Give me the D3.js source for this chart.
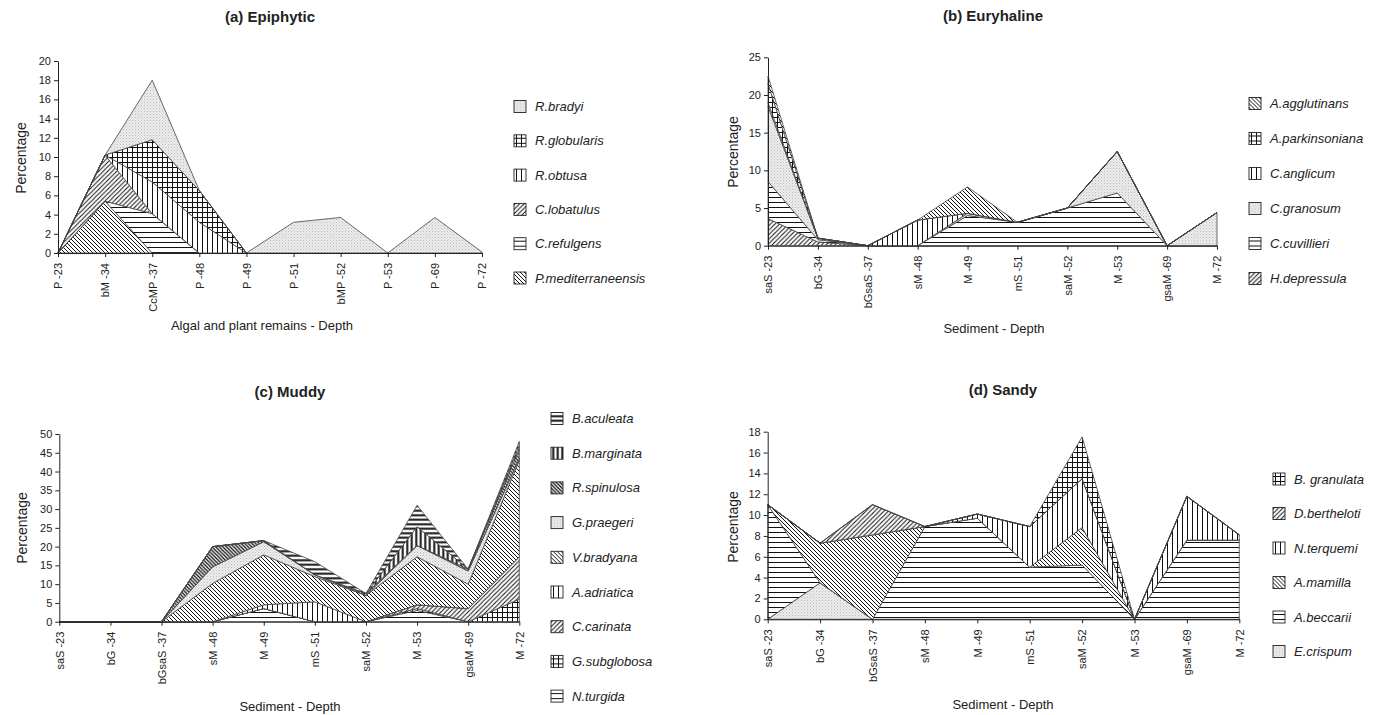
<!DOCTYPE html>
<html>
<head>
<meta charset="utf-8">
<script src="https://cdn.jsdelivr.net/npm/d3@7"></script>
<style>
body { margin: 0; background: #fff; }
text { font-family: "Liberation Sans", Arial, sans-serif; fill: #222; }
</style>
</head>
<body>
<svg id="chart" width="1381" height="715"></svg>
<script>
// categories (x axis)
const epiCats = ["P -23", "bM -34", "CcMP -37", "P -48", "P -49", "P -51", "bMP -52", "P -53", "P -69", "P -72"];
const sedCats = ["saS -23", "bG -34", "bGsaS -37", "sM -48", "M -49", "mS -51", "saM -52", "M -53", "gsaM -69", "M -72"];

// (a) Epiphytic, stack order bottom -> top
const pMediterraneensis = [0, 5.4, 0, 0, 0, 0, 0, 0, 0, 0];
const cRefulgens        = [0, 0, 4.1, 0, 0, 0, 0, 0, 0, 0];
const cLobatulus        = [0, 4.8, 0, 0, 0, 0, 0, 0, 0, 0];
const rObtusa           = [0, 0, 3.3, 3.2, 0, 0, 0, 0, 0, 0];
const rGlobularis       = [0, 0, 4.4, 3.3, 0, 0, 0, 0, 0, 0];
const rBradyi           = [0, 0, 6.2, 0, 0, 3.2, 3.7, 0, 3.7, 0.1];

// (b) Euryhaline
const hDepressula      = [3.6, 0.5, 0, 0, 0, 0, 0, 0, 0, 0];
const cCuvillieri      = [4.9, 0.3, 0, 0, 4.0, 3.1, 5.0, 7.0, 0, 0];
const cGranosum        = [10.0, 0.2, 0, 0, 0.3, 0, 0, 5.5, 0, 4.4];
const cAnglicum        = [0.5, 0, 0, 3.4, 0, 0, 0, 0, 0, 0];
const aParkinsoniana   = [2.5, 0, 0, 0, 0, 0, 0, 0, 0, 0];
const aAgglutinans     = [1.0, 0, 0, 0, 3.5, 0, 0, 0, 0, 0];

// (c) Muddy
const nTurgida     = [0, 0, 0, 0, 3.5, 0, 0, 3, 0, 0];
const gSubglobosa  = [0, 0, 0, 0, 0, 0, 0, 0.5, 0, 6];
const cCarinata    = [0, 0, 0, 0, 0, 0, 0, 1, 3.5, 11.3];
const aAdriatica   = [0, 0, 0, 0, 1, 5.3, 0, 0, 0, 0];
const vBradyana    = [0, 0, 0, 10.2, 13.3, 6.7, 7, 12.8, 6.5, 25.7];
const gPraegeri    = [0, 0, 0, 4.4, 3.5, 0.5, 0, 3, 3.5, 0.5];
const rSpinulosa   = [0, 0, 0, 5.4, 0.3, 0, 0.5, 0, 0.5, 2.5];
const bMarginata   = [0, 0, 0, 0, 0, 0, 0, 5, 0, 1];
const bAculeata    = [0, 0, 0, 0, 0, 3.5, 0, 5.7, 0, 1];

// (d) Sandy
const eCrispum     = [0, 3.5, 0, 0, 0, 0, 0, 0, 0, 0];
const aBeccarii    = [11.0, 0, 0, 8.9, 9.7, 5.0, 5.2, 0, 7.6, 7.6];
const aMamilla     = [0, 3.8, 8.1, 0, 0, 0, 3.6, 0, 0, 0];
const nTerquemi    = [0, 0, 0, 0, 0.4, 3.9, 4.7, 0, 4.2, 0.5];
const dBertheloti  = [0, 0, 2.9, 0, 0, 0, 0, 0, 0, 0];
const bGranulata   = [0, 0, 0, 0, 0, 0, 4.0, 0, 0, 0];

const svg = d3.select('#chart');
const defs = svg.append('defs');

// hatch patterns
function addPattern(id, type, s, sw) {
    var p = defs.append('pattern').attr('id', id)
        .attr('patternUnits', 'userSpaceOnUse')
        .attr('width', s).attr('height', s);
    if (type == 'dots') {
        p.append('rect').attr('width', s).attr('height', s).attr('fill', '#ebebeb');
        p.append('rect').attr('x', 0).attr('y', 0).attr('width', 1).attr('height', 1).attr('fill', '#bdbdbd');
        p.append('rect').attr('x', s / 2).attr('y', s / 2).attr('width', 1).attr('height', 1).attr('fill', '#cfcfcf');
        return;
    }
    p.append('rect').attr('width', s).attr('height', s).attr('fill', '#fff');
    var d = '';
    if (type == 'h' || type == 'g') d += 'M0,' + s / 2 + 'H' + s;
    if (type == 'v' || type == 'g') d += 'M' + s / 2 + ',0V' + s;
    if (type == 'f') d += 'M0,' + s + 'L' + s + ',0M' + (-s / 2) + ',' + s / 2 + 'L' + s / 2 + ',' + (-s / 2) +
        'M' + s / 2 + ',' + 1.5 * s + 'L' + 1.5 * s + ',' + s / 2;
    if (type == 'b') d += 'M0,0L' + s + ',' + s + 'M' + (-s / 2) + ',' + s / 2 + 'L' + s / 2 + ',' + 1.5 * s +
        'M' + s / 2 + ',' + (-s / 2) + 'L' + 1.5 * s + ',' + s / 2;
    p.append('path').attr('d', d).attr('stroke', '#111').attr('stroke-width', sw).attr('fill', 'none');
}
addPattern('dots', 'dots', 3, 0);
addPattern('h', 'h', 5, 1);
addPattern('v', 'v', 5, 1);
addPattern('f', 'f', 4.5, 1);
addPattern('b', 'b', 4, 1);
addPattern('g', 'g', 5, 1);
addPattern('hB', 'h', 4.5, 2);
addPattern('vB', 'v', 4.5, 2);
addPattern('bB', 'b', 3.6, 1.3);

const panels = [
    {
        title: '(a) Epiphytic', tx: 270, ty: 22, cats: epiCats, ymax: 20, step: 2,
        x0: 58, x1: 482, yb: 253, yt: 61, xtitle: 'Algal and plant remains - Depth', xtx: 262, xty: 330,
        ptx: 21, pty: 158, lx: 514, ly: 106.5, lstep: 34.3,
        series: [
            {name: 'P.mediterraneensis', values: pMediterraneensis, pat: 'b'},
            {name: 'C.refulgens', values: cRefulgens, pat: 'h'},
            {name: 'C.lobatulus', values: cLobatulus, pat: 'f'},
            {name: 'R.obtusa', values: rObtusa, pat: 'v'},
            {name: 'R.globularis', values: rGlobularis, pat: 'g'},
            {name: 'R.bradyi', values: rBradyi, pat: 'dots'}
        ]
    },
    {
        title: '(b) Euryhaline', tx: 993, ty: 21, cats: sedCats, ymax: 25, step: 5,
        x0: 768, x1: 1217, yb: 245.7, yt: 57.3, xtitle: 'Sediment - Depth', xtx: 994, xty: 333,
        ptx: 733, pty: 152, lx: 1249, ly: 103.5, lstep: 35,
        series: [
            {name: 'H.depressula', values: hDepressula, pat: 'f'},
            {name: 'C.cuvillieri', values: cCuvillieri, pat: 'h'},
            {name: 'C.granosum', values: cGranosum, pat: 'dots'},
            {name: 'C.anglicum', values: cAnglicum, pat: 'v'},
            {name: 'A.parkinsoniana', values: aParkinsoniana, pat: 'g'},
            {name: 'A.agglutinans', values: aAgglutinans, pat: 'b'}
        ]
    },
    {
        title: '(c) Muddy', tx: 290, ty: 397, cats: sedCats, ymax: 50, step: 5,
        x0: 59.3, x1: 519.3, yb: 621.7, yt: 434, xtitle: 'Sediment - Depth', xtx: 290, xty: 711,
        ptx: 22, pty: 528, lx: 551, ly: 418.5, lstep: 34.7,
        series: [
            {name: 'N.turgida', values: nTurgida, pat: 'h'},
            {name: 'G.subglobosa', values: gSubglobosa, pat: 'g'},
            {name: 'C.carinata', values: cCarinata, pat: 'f'},
            {name: 'A.adriatica', values: aAdriatica, pat: 'v'},
            {name: 'V.bradyana', values: vBradyana, pat: 'b'},
            {name: 'G.praegeri', values: gPraegeri, pat: 'dots'},
            {name: 'R.spinulosa', values: rSpinulosa, pat: 'bB'},
            {name: 'B.marginata', values: bMarginata, pat: 'vB'},
            {name: 'B.aculeata', values: bAculeata, pat: 'hB'}
        ]
    },
    {
        title: '(d) Sandy', tx: 1003, ty: 395, cats: sedCats, ymax: 18, step: 2,
        x0: 767.7, x1: 1239.3, yb: 619.3, yt: 431.7, xtitle: 'Sediment - Depth', xtx: 1003, xty: 709,
        ptx: 733, pty: 527, lx: 1273, ly: 479, lstep: 34.5,
        series: [
            {name: 'E.crispum', values: eCrispum, pat: 'dots'},
            {name: 'A.beccarii', values: aBeccarii, pat: 'h'},
            {name: 'A.mamilla', values: aMamilla, pat: 'b'},
            {name: 'N.terquemi', values: nTerquemi, pat: 'v'},
            {name: 'D.bertheloti', values: dBertheloti, pat: 'f'},
            {name: 'B. granulata', values: bGranulata, pat: 'g'}
        ]
    }
];

function drawPanel(cfg) {
    var g = svg.append('g');
    var x = d3.scalePoint().domain(cfg.cats).range([cfg.x0, cfg.x1]);
    var y = d3.scaleLinear().domain([0, cfg.ymax]).range([cfg.yb, cfg.yt]);

    var rows = cfg.cats.map(function(c, i) {
        var r = {cat: c};
        cfg.series.forEach(function(s) { r[s.name] = s.values[i]; });
        return r;
    });
    var layers = d3.stack().keys(cfg.series.map(function(s) { return s.name; }))(rows);
    var area = d3.area()
        .x(function(d) { return x(d.data.cat); })
        .y0(function(d) { return y(d[0]); })
        .y1(function(d) { return y(d[1]); });

    g.selectAll('path.layer')
        .data(layers).enter().append('path')
        .attr('class', 'layer')
        .attr('d', area)
        .attr('fill', function(d, i) { return 'url(#' + cfg.series[i].pat + ')'; })
        .attr('stroke', '#444')
        .attr('stroke-width', 0.8)
        .attr('stroke-linejoin', 'round');

    // y axis
    var ya = g.append('g').attr('transform', 'translate(' + cfg.x0 + ',0)')
        .call(d3.axisLeft(y).tickValues(d3.range(0, cfg.ymax + 0.01, cfg.step))
            .tickSize(4).tickSizeOuter(0).tickPadding(3));
    ya.selectAll('text').style('font-size', '11px').attr('fill', '#222');
    ya.selectAll('line,path').attr('stroke', '#222');

    // x axis
    var xa = g.append('g').attr('transform', 'translate(0,' + cfg.yb + ')')
        .call(d3.axisBottom(x).tickSize(4).tickSizeOuter(0));
    xa.selectAll('line,path').attr('stroke', '#222');
    xa.selectAll('text')
        .style('font-size', '11px')
        .style('text-anchor', 'end')
        .attr('transform', 'rotate(-90)')
        .attr('x', -10).attr('y', 0).attr('dy', '0.35em');

    // titles
    g.append('text').attr('x', cfg.tx).attr('y', cfg.ty)
        .attr('text-anchor', 'middle').style('font-size', '15px').style('font-weight', 'bold')
        .text(cfg.title);
    g.append('text').attr('x', cfg.xtx).attr('y', cfg.xty)
        .attr('text-anchor', 'middle').style('font-size', '13px').text(cfg.xtitle);
    g.append('text')
        .attr('transform', 'translate(' + cfg.ptx + ',' + cfg.pty + ') rotate(-90)')
        .attr('text-anchor', 'middle').attr('dy', '0.35em').style('font-size', '14px').text('Percentage');

    // legend (reversed, top of stack first)
    var leg = cfg.series.slice().reverse();
    var lg = g.selectAll('g.leg').data(leg).enter().append('g')
        .attr('transform', function(d, i) { return 'translate(' + cfg.lx + ',' + (cfg.ly + i * cfg.lstep) + ')'; });
    lg.append('rect').attr('x', 0).attr('y', -6).attr('width', 12).attr('height', 12)
        .attr('fill', function(d) { return 'url(#' + d.pat + ')'; })
        .attr('stroke', '#222').attr('stroke-width', 0.9);
    lg.append('text').attr('x', 21).attr('y', 0).attr('dy', '0.35em')
        .style('font-size', '13px').style('font-style', 'italic').text(function(d) { return d.name; });
}

panels.forEach(drawPanel);
</script>
</body>
</html>
